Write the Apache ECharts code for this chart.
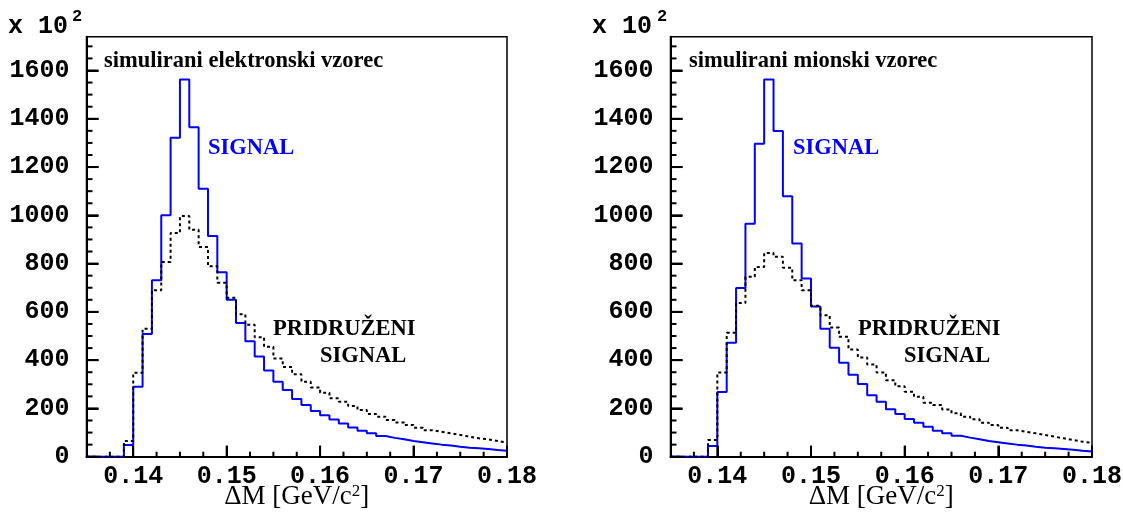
<!DOCTYPE html>
<html><head><meta charset="utf-8">
<script src="https://cdn.jsdelivr.net/npm/echarts@6/dist/echarts.min.js"></script>
<style>html,body{margin:0;padding:0;background:#fff}#c{width:1123px;height:512px}</style>
</head><body><div id="c"></div>
<script>
// Histogram bins: 45 bins of width 0.001 starting at 0.135
const binStart = 0.135;
const binWidth = 0.001;
const elecSignal = [0,0,0,0,48,290,508,731,1000,1321,1563,1365,1110,914,764,650,554,478,415,357,311,276,239,214,189,172,154,138,121,108,97,86,78,72,65,60,55,50,46,41,37,35,32,28,25];
const elecAssoc  = [0,0,0,0,65,348,530,690,807,927,997,940,869,789,721,659,590,547,495,455,407,372,342,310,287,265,242,228,210,193,177,166,152,142,131,120,110,103,97,90,83,76,72,65,58];
const muSignal   = [0,0,0,0,44,268,472,699,965,1296,1563,1349,1079,883,738,622,530,451,389,340,301,255,228,197,177,156,141,124,108,97,87,79,72,65,60,55,50,46,41,37,35,32,29,25,22];
const muAssoc    = [0,0,0,0,69,349,513,637,745,786,844,828,783,731,690,625,586,535,497,444,411,382,349,317,292,269,248,223,214,196,180,166,155,141,131,120,110,103,97,90,83,76,69,62,58];
const xTickValues = [0.14,0.15,0.16,0.17,0.18];
const xTickLabels = ['0.14','0.15','0.16','0.17','0.18'];
const yTickValues = [0,200,400,600,800,1000,1200,1400,1600];
const yTickLabels = ['0','200','400','600','800','1000','1200','1400','1600'];
const xMinorValues = [0.1375,0.1425,0.145,0.1475,0.1525,0.155,0.1575,0.1625,0.165,0.1675,0.1725,0.175,0.1775];
const yMinorValues = [50,100,150,250,300,350,450,500,550,650,700,750,850,900,950,1050,1100,1150,1250,1300,1350,1450,1500,1550,1650,1700];
const xMin = 0.135, xMax = 0.18, yMin = 0, yMax = 1740;

function toSteps(vals){
  const pts = vals.map((v,i)=>[binStart + i*binWidth, v]);
  pts.push([binStart + vals.length*binWidth, vals[vals.length-1]]);
  return pts;
}
function lookup(values, labels, v){
  for (let i=0;i<values.length;i++) if (Math.abs(values[i]-v) < 1e-7) return labels[i];
  return '';
}
const mono = {fontFamily:'Liberation Mono', fontWeight:'bold', fontSize:25, color:'#000'};
const serifB = 'bold 22.5px "Liberation Serif"';

function xAxis(g){
  return {type:'value', gridIndex:g, min:xMin, max:xMax, position:'bottom',
     axisLine:{show:true, onZero:false, lineStyle:{color:'#000', width:2}},
     axisTick:{show:true, inside:true, length:11, customValues:xTickValues, lineStyle:{color:'#000', width:2}},
     axisLabel:Object.assign({customValues:xTickValues, margin:8, formatter:v=>lookup(xTickValues,xTickLabels,v)}, mono),
     splitLine:{show:false},
     name:'{a|ΔM [GeV/c}{s|2}{a|]}', nameLocation:'middle', nameGap:26, nameMoveOverlap:false,
     nameTextStyle:{rich:{a:{fontFamily:'Liberation Serif', fontSize:27, color:'#000'}, s:{fontFamily:'Liberation Serif', fontSize:17, color:'#000', verticalAlign:'top', padding:[0,0,12,0]}}}};
}
function yAxis(g){
  return {type:'value', gridIndex:g, min:yMin, max:yMax, position:'left',
     axisLine:{show:true, onZero:false, lineStyle:{color:'#000', width:2}},
     axisTick:{show:true, inside:true, length:12, customValues:yTickValues, lineStyle:{color:'#000', width:2}},
     axisLabel:Object.assign({customValues:yTickValues, margin:17, formatter:v=>lookup(yTickValues,yTickLabels,v)}, mono),
     splitLine:{show:false}};
}
function stepSeries(vals, xi, yi, solid){
  return {type:'line', step:'end', xAxisIndex:xi, yAxisIndex:yi, data:toSteps(vals), symbol:'none',
    lineStyle: solid ? {color:'#0000ff', width:2} : {color:'#000', width:2, type:[3,3]}, z: solid?2:3};
}
function txt(text, x, y, font, fill){
  return {type:'text', x:x, y:y, z:10, style:{text:text, font:font, fill:fill||'#000', align:'left', verticalAlign:'middle'}};
}
const texts = [
  txt('x 10', 8, 27, 'bold 25px "Liberation Mono"'),
  txt('2', 72, 17, 'bold 17px "Liberation Mono"'),
  txt('x 10', 592, 27, 'bold 25px "Liberation Mono"'),
  txt('2', 657, 17, 'bold 17px "Liberation Mono"'),
  txt('simulirani elektronski vzorec', 104, 61, serifB),
  txt('simulirani mionski vzorec', 689, 61, serifB),
  txt('SIGNAL', 208, 148, 'bold 22.5px "Liberation Serif"', '#0000ff'),
  txt('SIGNAL', 793, 148, 'bold 22.5px "Liberation Serif"', '#0000ff'),
  txt('PRIDRUŽENI', 273, 329, 'bold 22.5px "Liberation Serif"'),
  txt('SIGNAL', 320, 356, 'bold 22.5px "Liberation Serif"'),
  txt('PRIDRUŽENI', 858, 329, 'bold 22.5px "Liberation Serif"'),
  txt('SIGNAL', 904, 356, 'bold 22.5px "Liberation Serif"')
];

const chart = echarts.init(document.getElementById('c'), null, {renderer:'canvas'});
chart.setOption({
  animation:false,
  backgroundColor:'#fff',
  grid:[
    {left:86.5, width:420.5, top:36.7, height:420, show:true, borderColor:'#000', borderWidth:1.5, backgroundColor:'transparent', outerBoundsMode:'none'},
    {left:670.5, width:421.5, top:36.7, height:420, show:true, borderColor:'#000', borderWidth:1.5, backgroundColor:'transparent', outerBoundsMode:'none'}
  ],
  xAxis:[xAxis(0), xAxis(1)],
  yAxis:[yAxis(0), yAxis(1)],
  series:[
    stepSeries(elecSignal,0,0,true),
    stepSeries(elecAssoc,0,0,false),
    stepSeries(muSignal,1,1,true),
    stepSeries(muAssoc,1,1,false)
  ],
  graphic:texts
});

// Tick marks placed through the library's own scales (convertToPixel)
const ticks = [];
[0,1].forEach(g=>{
  const add = (vals, isX, len)=>vals.forEach(v=>{
    let p = null;
    try { p = chart.convertToPixel({xAxisIndex:g, yAxisIndex:g}, isX ? [v, yMin] : [xMin, v]); } catch(e) { p = null; }
    if (!p || isNaN(p[0]) || isNaN(p[1])) return;
    ticks.push({type:'line', z:9, silent:true,
      shape: isX ? {x1:p[0], y1:p[1], x2:p[0], y2:p[1]-len} : {x1:p[0], y1:p[1], x2:p[0]+len, y2:p[1]},
      style:{stroke:'#000', lineWidth:2}});
  });
  add(xTickValues, true, 11);
  add(xMinorValues, true, 5);
  add(yTickValues, false, 12);
  add(yMinorValues, false, 6);
});
chart.setOption({graphic: texts.concat(ticks)});
</script></body></html>
